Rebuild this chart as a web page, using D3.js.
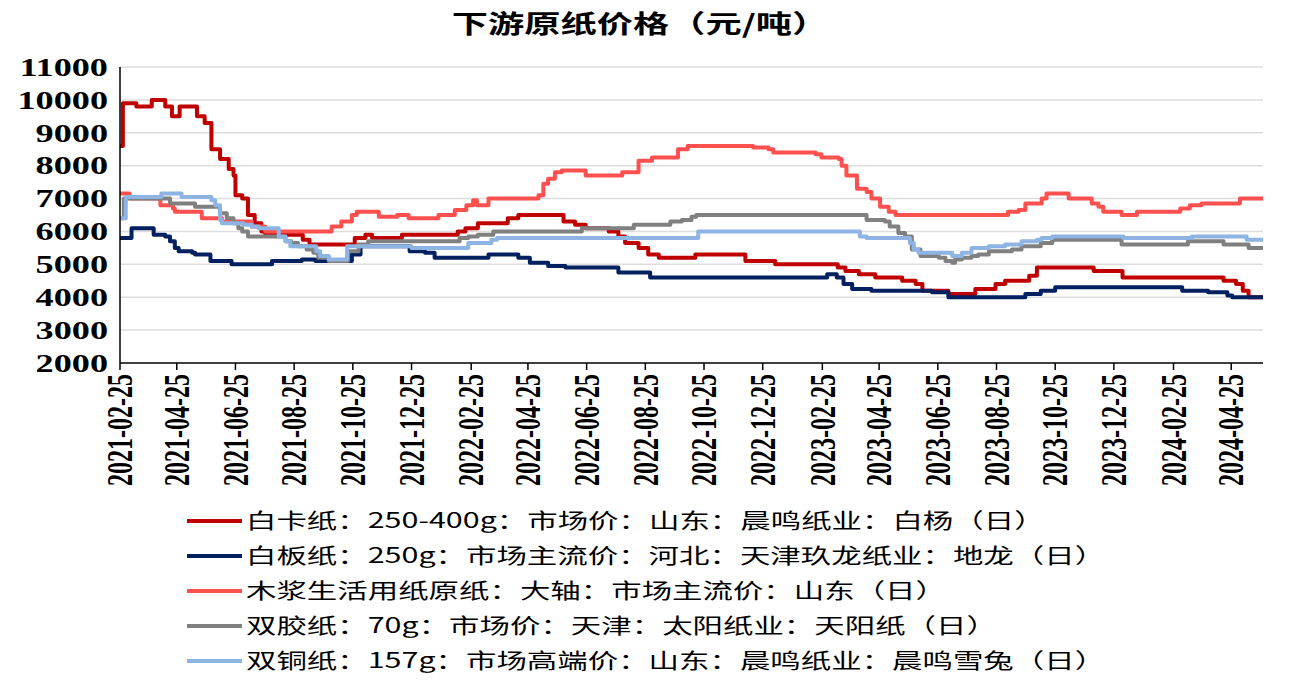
<!DOCTYPE html>
<html>
<head>
<meta charset="utf-8">
<script src="https://cdn.jsdelivr.net/npm/d3@7"></script>
<style>
  body { margin: 0; background: #fff; }
  svg { display: block; }
</style>
</head>
<body>
<div id="chart"></div>
<script>
// chart data (step changes only)
const title = "下游原纸价格（元/吨）";

const seriesNames = [
  "白卡纸：250-400g：市场价：山东：晨鸣纸业：白杨（日）",
  "白板纸：250g：市场主流价：河北：天津玖龙纸业：地龙（日）",
  "木浆生活用纸原纸：大轴：市场主流价：山东（日）",
  "双胶纸：70g：市场价：天津：太阳纸业：天阳纸（日）",
  "双铜纸：157g：市场高端价：山东：晨鸣纸业：晨鸣雪兔（日）"
];

const seriesColors = ["#C00000", "#002060", "#FF5050", "#808080", "#8DB4E2"];

const yTicks = [2000, 3000, 4000, 5000, 6000, 7000, 8000, 9000, 10000, 11000];

const xTicks = [
  "2021-02-25", "2021-04-25", "2021-06-25", "2021-08-25", "2021-10-25",
  "2021-12-25", "2022-02-25", "2022-04-25", "2022-06-25", "2022-08-25",
  "2022-10-25", "2022-12-25", "2023-02-25", "2023-04-25", "2023-06-25",
  "2023-08-25", "2023-10-25", "2023-12-25", "2024-02-25", "2024-04-25"
];

const xDomain = ["2021-02-25", "2024-05-28"];

const baika = [
  ["2021-02-25", 8600], ["2021-02-28", 9900], ["2021-03-14", 9800], ["2021-03-30", 10000],
  ["2021-04-13", 9800], ["2021-04-20", 9500], ["2021-04-28", 9800], ["2021-05-16", 9500],
  ["2021-05-24", 9300], ["2021-05-31", 8500], ["2021-06-09", 8200], ["2021-06-18", 7900],
  ["2021-06-23", 7700], ["2021-06-25", 7100], ["2021-07-02", 7000], ["2021-07-08", 6500],
  ["2021-07-15", 6250], ["2021-07-22", 6000], ["2021-07-26", 5900], ["2021-09-03", 5750],
  ["2021-09-10", 5600], ["2021-10-27", 5800], ["2021-11-07", 5900], ["2021-11-14", 5800],
  ["2021-12-15", 5900], ["2022-02-11", 6000], ["2022-02-19", 6100], ["2022-03-04", 6250],
  ["2022-04-04", 6400], ["2022-04-15", 6500], ["2022-06-01", 6300], ["2022-06-13", 6200],
  ["2022-06-24", 6100], ["2022-07-18", 6000], ["2022-07-28", 5850], ["2022-08-04", 5650],
  ["2022-08-18", 5500], ["2022-08-28", 5300], ["2022-09-08", 5200], ["2022-10-16", 5300],
  ["2022-12-07", 5100], ["2023-01-07", 5000], ["2023-03-13", 4900], ["2023-03-21", 4800],
  ["2023-04-04", 4700], ["2023-04-21", 4600], ["2023-05-19", 4500], ["2023-06-02", 4400],
  ["2023-06-09", 4200], ["2023-07-06", 4100], ["2023-08-03", 4250], ["2023-08-24", 4400],
  ["2023-09-03", 4500], ["2023-09-28", 4650], ["2023-10-06", 4900], ["2023-12-04", 4800],
  ["2024-01-03", 4600], ["2024-04-17", 4500], ["2024-04-30", 4400], ["2024-05-07", 4200],
  ["2024-05-13", 4000], ["2024-05-28", 4000]
];

const baiban = [
  ["2021-02-25", 5800], ["2021-03-09", 6100], ["2021-04-01", 5900], ["2021-04-13", 5850],
  ["2021-04-18", 5700], ["2021-04-23", 5500], ["2021-04-27", 5400], ["2021-05-11", 5350],
  ["2021-05-14", 5300], ["2021-05-30", 5100], ["2021-06-21", 5000], ["2021-08-02", 5100],
  ["2021-09-02", 5150], ["2021-09-16", 5100], ["2021-10-24", 5300], ["2021-11-02", 5550],
  ["2021-12-23", 5400], ["2022-01-08", 5350], ["2022-01-18", 5200], ["2022-03-15", 5300],
  ["2022-04-15", 5200], ["2022-04-27", 5050], ["2022-05-16", 4950], ["2022-06-03", 4900],
  ["2022-07-28", 4750], ["2022-08-30", 4600], ["2023-03-02", 4700], ["2023-03-12", 4600],
  ["2023-03-19", 4400], ["2023-03-28", 4250], ["2023-04-17", 4200], ["2023-06-19", 4150],
  ["2023-07-06", 4000], ["2023-09-24", 4100], ["2023-10-10", 4200], ["2023-10-25", 4300],
  ["2024-03-05", 4200], ["2024-04-01", 4150], ["2024-04-21", 4050], ["2024-04-26", 4000],
  ["2024-05-28", 4000]
];

const shenghuo = [
  ["2021-02-25", 7150], ["2021-03-07", 7000], ["2021-04-08", 6800], ["2021-04-21", 6700],
  ["2021-04-23", 6600], ["2021-05-21", 6400], ["2021-06-11", 6300], ["2021-07-12", 6150],
  ["2021-07-26", 6000], ["2021-10-03", 6150], ["2021-10-13", 6300], ["2021-10-24", 6500],
  ["2021-10-29", 6600], ["2021-11-21", 6450], ["2021-12-10", 6500], ["2021-12-22", 6400],
  ["2022-01-22", 6500], ["2022-02-08", 6650], ["2022-02-20", 6800], ["2022-02-27", 6950],
  ["2022-03-03", 6800], ["2022-03-15", 7000], ["2022-05-06", 7100], ["2022-05-11", 7450],
  ["2022-05-16", 7600], ["2022-05-23", 7800], ["2022-05-30", 7850], ["2022-06-24", 7700],
  ["2022-08-01", 7800], ["2022-08-18", 8150], ["2022-09-01", 8250], ["2022-09-28", 8500],
  ["2022-10-08", 8600], ["2022-12-15", 8550], ["2022-12-31", 8500], ["2023-01-05", 8400],
  ["2023-02-18", 8350], ["2023-02-24", 8250], ["2023-03-14", 8200], ["2023-03-17", 8000],
  ["2023-03-22", 7700], ["2023-04-02", 7300], ["2023-04-12", 7200], ["2023-04-17", 7000],
  ["2023-04-26", 6750], ["2023-05-05", 6600], ["2023-05-12", 6500], ["2023-09-06", 6600],
  ["2023-09-17", 6650], ["2023-09-24", 6850], ["2023-10-11", 7000], ["2023-10-16", 7150],
  ["2023-11-08", 7000], ["2023-12-02", 6850], ["2023-12-09", 6750], ["2023-12-14", 6600],
  ["2024-01-02", 6500], ["2024-01-18", 6600], ["2024-03-03", 6700], ["2024-03-13", 6800],
  ["2024-03-25", 6850], ["2024-05-04", 7000], ["2024-05-28", 7000]
];

const shuangjiao = [
  ["2021-02-25", 6400], ["2021-03-01", 7000], ["2021-04-18", 6850], ["2021-05-14", 6750],
  ["2021-06-09", 6550], ["2021-06-16", 6400], ["2021-06-23", 6250], ["2021-06-28", 6100],
  ["2021-07-02", 6000], ["2021-07-08", 5850], ["2021-08-16", 5700], ["2021-08-22", 5650],
  ["2021-08-29", 5550], ["2021-09-07", 5450], ["2021-09-14", 5350], ["2021-09-19", 5200],
  ["2021-09-30", 5100], ["2021-10-20", 5400], ["2021-10-31", 5600], ["2021-11-10", 5700],
  ["2022-02-13", 5800], ["2022-02-22", 5850], ["2022-03-04", 5900], ["2022-03-20", 6000],
  ["2022-06-20", 6100], ["2022-08-13", 6200], ["2022-09-20", 6300], ["2022-10-02", 6350],
  ["2022-10-12", 6450], ["2022-10-17", 6500], ["2023-04-12", 6350], ["2023-05-01", 6300],
  ["2023-05-06", 6150], ["2023-05-15", 5950], ["2023-05-22", 5850], ["2023-05-29", 5450],
  ["2023-06-07", 5250], ["2023-06-26", 5200], ["2023-07-03", 5100], ["2023-07-10", 5050],
  ["2023-07-13", 5150], ["2023-07-20", 5200], ["2023-07-30", 5250], ["2023-08-06", 5300],
  ["2023-08-17", 5400], ["2023-09-10", 5450], ["2023-09-20", 5550], ["2023-10-10", 5650],
  ["2023-10-22", 5750], ["2024-01-02", 5600], ["2024-03-11", 5700], ["2024-04-17", 5600],
  ["2024-05-13", 5500], ["2024-05-28", 5500]
];

const shuangtong = [
  ["2021-02-25", 6400], ["2021-03-03", 7050], ["2021-04-09", 7150], ["2021-04-30", 7050],
  ["2021-05-31", 6950], ["2021-06-04", 6800], ["2021-06-09", 6350], ["2021-06-11", 6250],
  ["2021-07-03", 6200], ["2021-07-12", 6150], ["2021-07-19", 6100], ["2021-08-09", 5850],
  ["2021-08-16", 5700], ["2021-08-21", 5550], ["2021-09-17", 5400], ["2021-09-21", 5250],
  ["2021-09-30", 5150], ["2021-10-19", 5550], ["2021-12-25", 5500], ["2022-02-22", 5650],
  ["2022-03-18", 5750], ["2022-03-24", 5800], ["2022-10-19", 6000], ["2023-04-05", 5850],
  ["2023-04-12", 5800], ["2023-05-27", 5650], ["2023-05-31", 5450], ["2023-06-05", 5350],
  ["2023-07-10", 5250], ["2023-07-20", 5350], ["2023-07-30", 5500], ["2023-08-17", 5550],
  ["2023-09-03", 5600], ["2023-09-20", 5700], ["2023-10-06", 5750], ["2023-10-11", 5800],
  ["2023-10-22", 5850], ["2024-01-04", 5800], ["2024-03-15", 5850], ["2024-05-11", 5750],
  ["2024-05-28", 5750]
];

const allSeries = [baika, baiban, shenghuo, shuangjiao, shuangtong];

// layout
const width = 1302;
const height = 684;
const plot = { left: 120, right: 1263, top: 67, bottom: 363 };
const SX = 1.45; // the picture's text is stretched sideways

const parse = d3.timeParse("%Y-%m-%d");
const fmt = d3.timeFormat("%Y-%m-%d");

const svg = d3.select("#chart").append("svg")
  .attr("width", width)
  .attr("height", height);

const x = d3.scaleTime()
  .domain(xDomain.map(parse))
  .range([plot.left, plot.right]);

const y = d3.scaleLinear()
  .domain([yTicks[0], yTicks[yTicks.length - 1]])
  .range([plot.bottom, plot.top]);

// title
svg.append("text")
  .attr("transform", `translate(640,33) scale(${SX},1)`)
  .attr("text-anchor", "middle")
  .style("font-family", "'Noto Sans CJK SC', sans-serif")
  .style("font-weight", "bold")
  .style("font-size", "25px")
  .text(title);

// gridlines
svg.append("g")
  .selectAll("line")
  .data(yTicks.slice(1))
  .enter()
  .append("line")
  .attr("x1", plot.left)
  .attr("x2", plot.right)
  .attr("y1", (d) => y(d))
  .attr("y2", (d) => y(d))
  .style("stroke", "#DDDDDD")
  .style("stroke-width", 1.5);

// y labels
svg.append("g")
  .selectAll("text")
  .data(yTicks)
  .enter()
  .append("text")
  .attr("transform", (d) => `translate(108,${y(d)}) scale(${SX},1)`)
  .attr("text-anchor", "end")
  .attr("dy", "0.35em")
  .style("font-family", "'Liberation Serif', serif")
  .style("font-weight", "bold")
  .style("font-size", "25px")
  .text((d) => d);

// series lines
const line = d3.line()
  .x((d) => x(parse(d[0])))
  .y((d) => y(d[1]))
  .curve(d3.curveStepAfter);

svg.append("g")
  .selectAll("path")
  .data(allSeries)
  .enter()
  .append("path")
  .attr("d", line)
  .style("fill", "none")
  .style("stroke", (d, i) => seriesColors[i])
  .style("stroke-width", 4)
  .style("stroke-linejoin", "round");

// axes lines
svg.append("line")
  .attr("x1", plot.left).attr("x2", plot.left)
  .attr("y1", plot.top).attr("y2", plot.bottom)
  .style("stroke", "#000").style("stroke-width", 1.5);

svg.append("line")
  .attr("x1", plot.left).attr("x2", plot.right)
  .attr("y1", plot.bottom).attr("y2", plot.bottom)
  .style("stroke", "#000").style("stroke-width", 1.5);

// x ticks and labels
const xg = svg.append("g");
xg.selectAll("line")
  .data(xTicks)
  .enter()
  .append("line")
  .attr("x1", (d) => x(parse(d)))
  .attr("x2", (d) => x(parse(d)))
  .attr("y1", plot.bottom)
  .attr("y2", plot.bottom + 7)
  .style("stroke", "#000")
  .style("stroke-width", 1.5);

xg.selectAll("text")
  .data(xTicks)
  .enter()
  .append("text")
  .attr("transform", (d) => `translate(${x(parse(d))},374) scale(${SX},1) rotate(-90)`)
  .attr("text-anchor", "end")
  .attr("dy", "0.35em")
  .style("font-family", "'Liberation Serif', serif")
  .style("font-weight", "bold")
  .style("font-size", "24px")
  .text((d) => fmt(parse(d)));

// legend
const legendY = [521, 556, 591, 626, 661];
const lg = svg.append("g");
seriesNames.forEach((name, i) => {
  lg.append("line")
    .attr("x1", 187).attr("x2", 242)
    .attr("y1", legendY[i]).attr("y2", legendY[i])
    .style("stroke", seriesColors[i])
    .style("stroke-width", 4);
  lg.append("text")
    .attr("transform", `translate(246,${legendY[i]}) scale(${SX},1)`)
    .attr("dy", "0.35em")
    .style("font-family", "'Noto Sans CJK SC', sans-serif")
    .style("font-size", "21px")
    .text(name);
});
</script>
</body>
</html>
